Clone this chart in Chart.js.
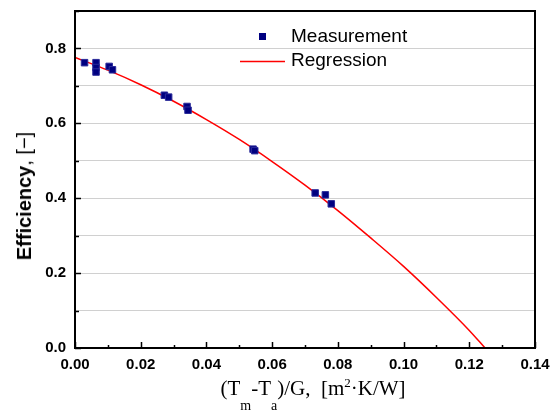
<!DOCTYPE html>
<html>
<head>
<meta charset="utf-8">
<script src="https://cdn.jsdelivr.net/npm/chart.js@4/dist/chart.umd.min.js"></script>
<style>
  body { margin: 0; background: #fff; }
  #wrap { position: relative; width: 554px; height: 415px; overflow: hidden; }
  #xTitle {
    position: absolute; left: 313px; top: 378px; transform: translateX(-50%);
    font-family: "Liberation Serif", "Times New Roman", serif; font-size: 21px;
    line-height: 21px; white-space: nowrap; color: #000;
  }
  #xTitle .sub { position: relative; top: 15px; font-size: 14px; }
  #xTitle .sup { position: relative; top: -8px; font-size: 13px; }
  #yTitle {
    position: absolute; left: 24px; top: 196px;
    transform: translate(-50%, -50%) rotate(-90deg);
    font-family: "Liberation Sans", Arial, sans-serif; font-size: 20px;
    line-height: 20px; white-space: nowrap; color: #000;
  }
</style>
</head>
<body>
<div id="wrap">
  <canvas id="chart" width="554" height="415"></canvas>
  <div id="xTitle">(T<span class="sub">m</span>-T<span class="sub">a</span>)/G,&nbsp;&nbsp;[m<span class="sup">2</span>·K/W]</div>
  <div id="yTitle"><b>Efficiency</b>, [−]</div>
</div>
<script>
// measured points
const measX = [0.0029, 0.0064, 0.0064, 0.0064, 0.0104, 0.0114, 0.0272, 0.0285, 0.0341, 0.0344, 0.0542, 0.0547, 0.0731, 0.0762, 0.0780];
const measY = [0.762, 0.762, 0.749, 0.737, 0.752, 0.743, 0.675, 0.670, 0.645, 0.635, 0.531, 0.527, 0.414, 0.409, 0.385];

// regression curve
const regX = [0, 0.01, 0.02, 0.03, 0.04, 0.05, 0.06, 0.07, 0.08, 0.09, 0.10, 0.11, 0.12, 0.1248];
const regY = [0.776, 0.742, 0.703, 0.659, 0.610, 0.557, 0.498, 0.435, 0.367, 0.294, 0.218, 0.135, 0.047, 0.0];

const toPoints = (xs, ys) => xs.map((x, i) => ({ x: x, y: ys[i] }));

// frame, inward ticks and the legend inside the plot
const decorations = {
  id: 'decorations',
  afterDatasetsDraw(chart) {
    const ctx = chart.ctx;
    const a = chart.chartArea;
    const xs = chart.scales.x, ys = chart.scales.y;
    ctx.save();
    ctx.strokeStyle = '#000';
    ctx.lineWidth = 1.5;
    // ticks
    for (let i = 0; i <= 14; i++) {
      const px = Math.round(xs.getPixelForValue(i / 100)) + 0.5;
      const len = i % 2 === 0 ? 6 : 3;
      ctx.beginPath();
      ctx.moveTo(px, a.bottom);
      ctx.lineTo(px, a.bottom - len);
      ctx.stroke();
    }
    for (let i = 0; i <= 9; i++) {
      const py = Math.round(ys.getPixelForValue(i / 10)) + 0.5;
      const len = i % 2 === 0 ? 6 : 4;
      ctx.beginPath();
      ctx.moveTo(a.left, py);
      ctx.lineTo(a.left + len, py);
      ctx.stroke();
    }
    // frame
    ctx.lineWidth = 2;
    ctx.strokeRect(a.left, a.top, a.right - a.left, a.bottom - a.top);

    // legend
    const ds = chart.data.datasets;
    ctx.font = '19px "Liberation Sans", Arial, sans-serif';
    ctx.fillStyle = '#000';
    ctx.textBaseline = 'middle';
    ctx.fillText(ds[0].label, 291, 37);
    ctx.fillText(ds[1].label, 291, 61);
    ctx.fillStyle = ds[0].backgroundColor;
    ctx.fillRect(259, 33, 7, 7);
    ctx.strokeStyle = ds[1].borderColor;
    ctx.lineWidth = 1.5;
    ctx.beginPath();
    ctx.moveTo(240, 61.5);
    ctx.lineTo(285, 61.5);
    ctx.stroke();
    ctx.restore();
  }
};

new Chart(document.getElementById('chart').getContext('2d'), {
  type: 'scatter',
  data: {
    datasets: [{
      label: 'Measurement',
      data: toPoints(measX, measY),
      backgroundColor: '#000080',
      borderColor: '#2a2a9a',
      borderWidth: 1,
      pointStyle: 'rect',
      pointRadius: 4.6,
      order: 1,
    }, {
      label: 'Regression',
      data: toPoints(regX, regY),
      showLine: true,
      borderColor: '#ff0000',
      borderWidth: 1.5,
      pointRadius: 0,
      cubicInterpolationMode: 'monotone',
      order: 2,
    }],
  },
  options: {
    responsive: false,
    animation: false,
    devicePixelRatio: 1,
    layout: { padding: { left: 0, top: 11, right: 19, bottom: 0 } },
    plugins: { legend: { display: false }, tooltip: { enabled: false } },
    scales: {
      x: {
        min: 0, max: 0.14,
        afterFit: (s) => { s.height = 67; s.paddingLeft = 0; s.paddingRight = 0; },
        grid: { display: false, drawTicks: false },
        border: { display: false },
        ticks: {
          stepSize: 0.02, autoSkip: false, maxRotation: 0, padding: 8,
          color: '#000',
          font: { family: '"Liberation Sans", Arial, sans-serif', size: 15, weight: 'bold' },
          callback: (v) => v.toFixed(2),
        },
      },
      y: {
        min: 0, max: 0.9,
        afterFit: (s) => { s.width = 75; s.paddingTop = 0; s.paddingBottom = 0; },
        grid: { color: '#d0d0d0', lineWidth: 1, drawTicks: false },
        border: { display: false },
        ticks: {
          stepSize: 0.1, autoSkip: false, padding: 9,
          color: '#000',
          font: { family: '"Liberation Sans", Arial, sans-serif', size: 15, weight: 'bold' },
          callback: (v, i) => (i % 2 === 0 && i <= 8 ? v.toFixed(1) : ''),
        },
      },
    },
  },
  plugins: [decorations],
});
</script>
</body>
</html>
